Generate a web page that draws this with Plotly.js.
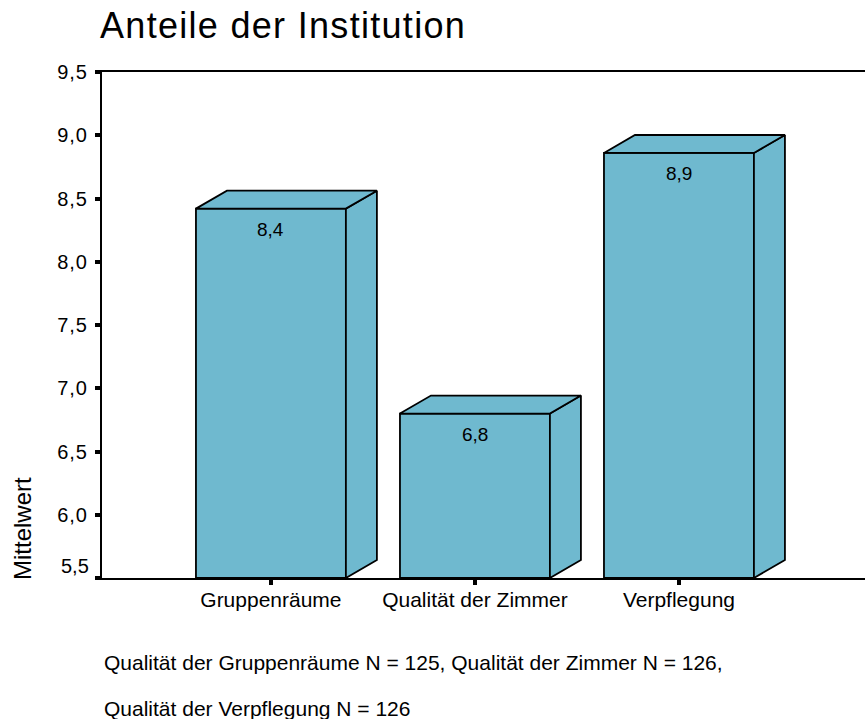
<!DOCTYPE html>
<html>
<head>
<meta charset="utf-8">
<script src="https://cdn.plot.ly/plotly-3.0.1.min.js"></script>
<style>
  html, body { margin: 0; padding: 0; background: #fff; }
  #chart { width: 865px; height: 719px; }
  #chart .gtitle { letter-spacing: 1.3px; }
  #chart .ytick text { letter-spacing: 1px; }
</style>
</head>
<body>
<div id="chart"></div>
<script>
// ---- data ----
const categories = ["Gruppenräume", "Qualität der Zimmer", "Verpflegung"];
const means = [8.42, 6.80, 8.86];
const meanLabels = ["8,4", "6,8", "8,9"];
const yTickValues = [5.5, 6.0, 6.5, 7.0, 7.5, 8.0, 8.5, 9.0, 9.5];
const yTickLabels = ["5,5", "6,0", "6,5", "7,0", "7,5", "8,0", "8,5", "9,0", "9,5"];
const titleText = "Anteile der Institution";
const yTitle = "Mittelwert";
const noteLines = [
  "Qualität der Gruppenräume N = 125, Qualität der Zimmer N = 126,",
  "Qualität der Verpflegung N = 126"
];

// ---- styling / geometry ----
const yMin = 5.5, yMax = 9.5;
const barColor = "#6fb9cf";
const barW = 0.735;     // bar width in category units
const dX = 0.152;       // 3D depth offset (x units)
const dY = 0.142;       // 3D depth offset (y units)
const FONT = "Arial, 'Liberation Sans', sans-serif";
const xs = categories.map((c, i) => i);
// plot area in pixels (for placing paper-referenced texts)
const PL = 102, PR = 865, PT = 72, PB = 578;
const px2x = p => (p - PL) / (PR - PL);
const py2y = p => (PB - p) / (PB - PT);

const traces = [];
traces.push({
  type: "bar",
  x: xs,
  y: means.map(v => v - yMin),
  base: yMin,
  width: barW,
  marker: { color: barColor, line: { color: "#000", width: 1.8 } },
  hoverinfo: "skip",
  showlegend: false
});
xs.forEach((x, i) => {
  const v = means[i];
  const l = x - barW / 2, r = x + barW / 2;
  // right side face
  traces.push({
    type: "scatter", mode: "lines", fill: "toself", fillcolor: barColor,
    x: [r, r + dX, r + dX, r, r],
    y: [yMin, yMin + dY, v + dY, v, yMin],
    line: { color: "#000", width: 1.8 }, hoverinfo: "skip", showlegend: false
  });
  // top face
  traces.push({
    type: "scatter", mode: "lines", fill: "toself", fillcolor: barColor,
    x: [l, l + dX, r + dX, r, l],
    y: [v, v + dY, v + dY, v, v],
    line: { color: "#000", width: 1.8 }, hoverinfo: "skip", showlegend: false
  });
});

const annotations = [];
xs.forEach((x, i) => {
  annotations.push({
    x: x, y: means[i], xref: "x", yref: "y", text: meanLabels[i],
    showarrow: false, yshift: -21, font: { family: FONT, size: 19, color: "#000" }
  });
});
annotations.push({
  x: 0, xref: "paper", y: yMin, yref: "y", text: yTickLabels[0],
  showarrow: false, xanchor: "right", xshift: -11, yshift: 12,
  font: { family: FONT, size: 20, color: "#000" }
});
annotations.push({
  x: px2x(22), xref: "paper", y: py2y(529), yref: "paper",
  xanchor: "center", yanchor: "middle", text: yTitle, textangle: -90,
  showarrow: false, font: { family: FONT, size: 24, color: "#000" }
});
noteLines.forEach((t, k) => {
  annotations.push({
    x: px2x(102), xref: "paper", y: py2y(662 + k * 46), yref: "paper",
    xanchor: "left", yanchor: "middle", text: t, showarrow: false,
    font: { family: FONT, size: 21, color: "#000" }
  });
});

const layout = {
  width: 865, height: 719,
  margin: { l: PL, r: 865 - PR, t: PT, b: 719 - PB, pad: 0 },
  paper_bgcolor: "#fff", plot_bgcolor: "#fff",
  title: {
    text: titleText, xref: "container", yref: "container",
    x: 100 / 865, xanchor: "left", y: 1 - 25 / 719, yanchor: "middle",
    font: { family: FONT, size: 36, color: "#000" }
  },
  xaxis: {
    range: [-0.828, 2.912], tickvals: xs, ticktext: categories,
    showgrid: false, zeroline: false, showline: true, mirror: true,
    linecolor: "#000", linewidth: 2,
    ticks: "outside", ticklen: 5, tickwidth: 4, tickcolor: "#000",
    tickfont: { family: FONT, size: 21, color: "#000" }, ticklabelstandoff: -3
  },
  yaxis: {
    range: [yMin, yMax], tickvals: yTickValues,
    ticktext: yTickLabels.map((t, i) => i === 0 ? "" : t),
    showgrid: false, zeroline: false, showline: true,
    linecolor: "#000", linewidth: 2,
    ticks: "outside", ticklen: 5, tickwidth: 4, tickcolor: "#000",
    tickfont: { family: FONT, size: 20, color: "#000" }, ticklabelstandoff: 3
  },
  annotations: annotations,
  bargap: 0
};

Plotly.newPlot("chart", traces, layout, { displayModeBar: false, staticPlot: true });
</script>
</body>
</html>
